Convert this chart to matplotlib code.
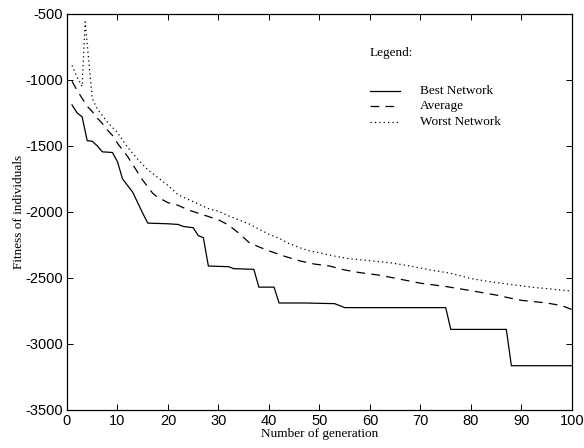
import matplotlib
matplotlib.use('Agg')
from matplotlib import pyplot as plt

# generacije i vrijednosti ocitane sa slike
gen_best = [1, 2, 3, 4, 5, 6, 7, 9, 10, 11, 12, 13, 14, 15, 16, 20, 22, 23, 25, 26, 27, 28,
            32, 33, 37, 38, 41, 42, 47, 53, 55, 75, 76, 87, 88, 100]
best = [-1190, -1250, -1280, -1460, -1465, -1500, -1545, -1550, -1620, -1750, -1800, -1850,
        -1930, -2010, -2085, -2090, -2095, -2110, -2120, -2180, -2195, -2410, -2415, -2430,
        -2435, -2570, -2570, -2690, -2690, -2695, -2725, -2725, -2890, -2890, -3165, -3165]

gen_avg = [1, 2, 3, 4, 5, 6, 7, 8, 9, 10, 11, 12, 13, 14, 15, 16, 17, 18, 19, 20, 22, 24, 26,
           28, 30, 32, 34, 36, 38, 40, 43, 46, 49, 52, 55, 58, 62, 66, 70, 75, 79, 82, 85,
           88, 90, 95, 98, 100]
average = [-1010, -1080, -1140, -1200, -1240, -1290, -1330, -1380, -1420, -1480, -1530, -1580,
           -1640, -1700, -1760, -1810, -1860, -1890, -1910, -1930, -1950, -1985, -2010, -2035,
           -2060, -2100, -2160, -2230, -2265, -2295, -2335, -2370, -2395, -2410, -2440, -2460,
           -2480, -2510, -2540, -2565, -2590, -2610, -2630, -2655, -2670, -2690, -2710, -2740]

gen_worst = [1, 2, 3, 3.6, 5, 6, 7, 8, 10, 12, 14, 16, 18, 20, 22, 24, 26, 28, 30, 32, 34, 36,
             38, 40, 42, 44, 46, 48, 50, 53, 56, 60, 64, 68, 72, 76, 80, 84, 88, 92, 96, 100]
worst = [-890, -980, -1050, -560, -1140, -1220, -1270, -1320, -1400, -1510, -1600, -1680,
         -1740, -1800, -1870, -1905, -1940, -1975, -1995, -2030, -2060, -2090, -2130, -2170,
         -2200, -2240, -2270, -2295, -2310, -2335, -2355, -2370, -2385, -2410, -2440, -2465,
         -2505, -2530, -2550, -2570, -2585, -2600]

labels = ['Best Network', 'Average', 'Worst Network']

plt.rcParams['axes.unicode_minus'] = False
fig = plt.figure(figsize=(5.84, 4.48), dpi=100)
ax = fig.add_axes([0.1147, 0.085, 0.8647, 0.884])

ax.plot(gen_best, best, color='black', linewidth=0.9)
ax.plot(gen_avg, average, color='black', linewidth=0.9, linestyle=(0, (7, 5)))
ax.plot(gen_worst, worst, color='black', linewidth=0.9, linestyle=(0, (1, 2.5)))

ax.set_xlim(0, 100)
ax.set_ylim(-3500, -500)
ax.set_xticks(range(0, 101, 10))
ax.set_yticks(range(-3500, -499, 500))
ax.tick_params(direction='in', top=True, right=True, length=4, width=0.7,
               labelsize=10.5, pad=3)
for lab in ax.get_xticklabels() + ax.get_yticklabels():
    lab.set_family('Liberation Sans')
for s in ax.spines.values():
    s.set_linewidth(0.9)

ax.set_xlabel('Number of generation', family='Liberation Serif', fontsize=9.5, labelpad=0)
ax.set_ylabel('Fitness of individuals', family='Liberation Serif', fontsize=9.5, labelpad=0)

# rucno napravljena legenda (kao u matlabu)
ax.text(0.600, 0.901, 'Legend:', transform=ax.transAxes, family='Liberation Serif',
        fontsize=9.5, va='center')
styles = ['-', (0, (7, 5)), (0, (1, 2.5))]
ys = [0.806, 0.767, 0.728]
for lab, st, yy in zip(labels, styles, ys):
    ax.plot([0.600, 0.660], [yy, yy], transform=ax.transAxes, color='black',
            linewidth=0.9, linestyle=st)
    ax.text(0.699, yy, lab, transform=ax.transAxes, family='Liberation Serif',
            fontsize=9.5, va='center')

fig.savefig('out.png', dpi=100)
